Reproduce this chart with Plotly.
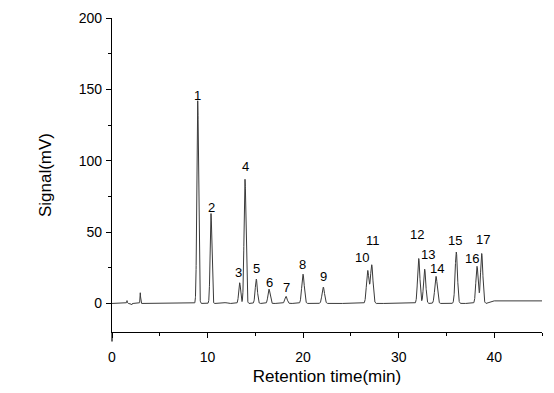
import numpy as np
import plotly.graph_objects as go

# Peak table
peak_labels = ["1", "2", "3", "4", "5", "6", "7", "8", "9", "10",
               "11", "12", "13", "14", "15", "16", "17"]
peak_times = [8.97, 10.36, 13.36, 13.92, 15.10, 16.43, 18.21, 19.99, 22.11,
              26.76, 27.18, 32.10, 32.72, 33.91, 36.03, 38.20, 38.69]
peak_heights = [142, 63, 14.5, 87, 17, 10, 5, 20.5, 11.5,
                23, 27, 31.5, 24, 19, 36, 26, 35]
peak_widths = [0.09, 0.09, 0.10, 0.10, 0.11, 0.11, 0.12, 0.13, 0.13,
               0.13, 0.13, 0.12, 0.12, 0.13, 0.12, 0.12, 0.12]

# Small unlabelled solvent / noise peaks
minor_times = [1.57, 2.05, 2.96, 11.9]
minor_heights = [2.0, -1.0, 7.5, 0.6]
minor_widths = [0.03, 0.03, 0.03, 0.15]

# Baseline level read at a few times
baseline_times = [0, 39.2, 39.8, 45]
baseline_levels = [0, 0, 1.8, 1.8]

# Label offsets from each peak apex (layout)
label_dx = [-0.04, 0.1, -0.07, 0.0, 0.04, 0.03, 0.0, -0.04, 0.0,
            -0.6, 0.1, -0.2, 0.3, 0.07, -0.17, -0.56, 0.1]
label_dy = [4, 4, 7, 9, 7.5, 4.7, 6, 6.8, 7.5, 9, 17, 16.5, 10, 5.5, 8, 5.5, 10]

x_ticks = [0, 10, 20, 30, 40]
y_ticks = [0, 50, 100, 150, 200]

t = np.linspace(0, 45, 9001)
signal = np.interp(t, baseline_times, baseline_levels)
for tc, h, w in zip(peak_times + minor_times, peak_heights + minor_heights,
                    peak_widths + minor_widths):
    signal = signal + h * np.exp(-0.5 * ((t - tc) / w) ** 2)

fig = go.Figure()
fig.add_trace(go.Scatter(x=t, y=signal, mode="lines",
                         line=dict(color="#3a3a3a", width=1), hoverinfo="skip"))

for lab, tc, h, dx, dy in zip(peak_labels, peak_times, peak_heights, label_dx, label_dy):
    fig.add_annotation(x=tc + dx, y=h + dy, text=lab, showarrow=False,
                       font=dict(size=13, color="#000"), yanchor="middle")

font = "Liberation Sans, Arial, sans-serif"
fig.update_layout(
    width=546, height=385,
    margin=dict(l=104, r=12, t=10, b=61),
    paper_bgcolor="white", plot_bgcolor="white",
    showlegend=False,
    font=dict(family=font, size=14, color="#000"),
    xaxis=dict(range=[0, 45], tickvals=x_ticks, ticks="outside", ticklen=5,
               tickwidth=1, tickcolor="#000", showline=True, linecolor="#000",
               linewidth=1.2, showgrid=False, zeroline=False, automargin=False,
               ticklabelstandoff=7,
               minor=dict(ticks="outside", ticklen=3, dtick=5, tickcolor="#000"),
               title=dict(text="Retention time(min)", font=dict(size=17), standoff=6)),
    yaxis=dict(range=[-20, 200], tickvals=y_ticks, ticks="outside", ticklen=5,
               tickwidth=1, tickcolor="#000", showline=True, linecolor="#000",
               linewidth=1.2, showgrid=False, zeroline=False, automargin=False,
               ticklabelstandoff=1,
               minor=dict(ticks="outside", ticklen=3, dtick=25, tick0=0, tickcolor="#000"),
               title=dict(text="Signal(mV)", font=dict(size=17), standoff=22)),
)
fig.add_shape(type="line", xref="paper", yref="paper", x0=0, x1=0, y0=0, y1=-0.03,
              line=dict(color="#000", width=1.2))

fig.write_html("out.html")
